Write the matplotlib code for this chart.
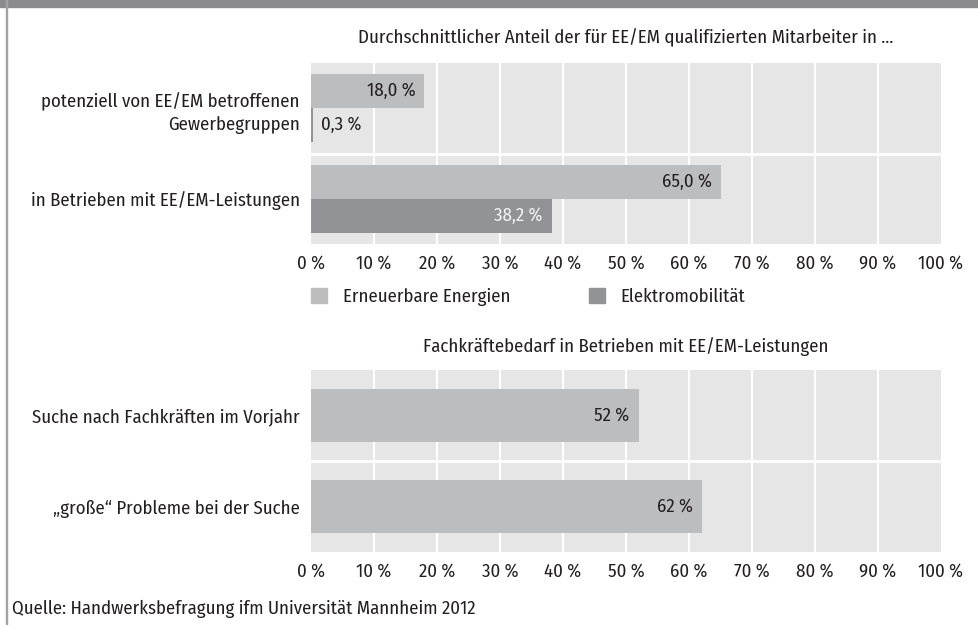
import matplotlib
matplotlib.use("Agg")
import numpy as np
from matplotlib import pyplot as plt
from matplotlib.patches import Patch

plt.rcParams["font.family"] = ["Fira Sans Condensed", "Roboto Condensed", "DejaVu Sans"]
plt.rcParams["font.size"] = 13.5

# colours
bandGray = "#8b8b8e"
lightBar = "#bcbdbf"
darkBar = "#929396"
panelBg = "#e6e6e7"
textCol = "#231f20"

# data
top_categories = ["potenziell von EE/EM betroffenen\nGewerbegruppen", "in Betrieben mit EE/EM-Leistungen"]
ee_values = [18.0, 65.0]
em_values = [0.3, 38.2]
series_names = ["Erneuerbare Energien", "Elektromobilität"]

bottom_categories = ["Suche nach Fachkräften im Vorjahr", "\u201egroße\u201c Probleme bei der Suche"]
bottom_values = [52, 62]

xticks = list(range(0, 101, 10))
xtick_labels = [f"{t} %" for t in xticks]


def de(v):
    return f"{v:.1f}".replace(".", ",") + " %"


fig = plt.figure(figsize=(9.79, 6.25), dpi=100)

# grey band on top and thin line on the left
fig.patches.append(plt.Rectangle((0, 1 - 7 / 625), 1, 7 / 625, transform=fig.transFigure, color=bandGray))
fig.patches.append(plt.Rectangle((6 / 979, 0), 1.5 / 979, 1, transform=fig.transFigure, color="#a3a3a5"))


def style_axes(ax):
    ax.set_facecolor(panelBg)
    ax.set_xlim(0, 100)
    ax.set_ylim(1.5, -0.5)
    ax.set_xticks(xticks)
    ax.set_xticklabels(xtick_labels, color=textCol)
    ax.tick_params(length=0, pad=8, colors=textCol)
    ax.tick_params(axis="y", pad=8)
    for s in ax.spines.values():
        s.set_visible(False)
    for t in xticks[1:-1]:
        ax.axvline(t, color="white", linewidth=1.5, zorder=1)
    ax.axhline(0.5, color="white", linewidth=2, zorder=1)


# top chart
ax1 = fig.add_axes([311 / 979, 1 - 244 / 625, 630 / 979, 181 / 625])
style_axes(ax1)
y = np.arange(len(top_categories))
h = 0.376
ax1.barh(y - h / 2, ee_values, height=h, color=lightBar, zorder=2)
ax1.barh(y + h / 2, em_values, height=h, color=darkBar, zorder=2)
ax1.set_yticks(y)
ax1.set_yticklabels(top_categories, color=textCol, linespacing=1.4)

for i, v in enumerate(ee_values):
    ax1.annotate(de(v), (v, i - h / 2), xytext=(-9, 0), textcoords="offset pixels",
                 ha="right", va="center", color=textCol, zorder=3)
for i, v in enumerate(em_values):
    if v < 5:
        ax1.annotate(de(v), (v, i + h / 2), xytext=(8, 0), textcoords="offset pixels",
                     ha="left", va="center", color=textCol, zorder=3)
    else:
        ax1.annotate(de(v), (v, i + h / 2), xytext=(-9, 0), textcoords="offset pixels",
                     ha="right", va="center", color="#f4f4f4", zorder=3)

ax1.text(0.5, 1 + 25 / 181, "Durchschnittlicher Anteil der für EE/EM qualifizierten Mitarbeiter in ...",
         transform=ax1.transAxes, ha="center", va="center", color=textCol)

handles = [Patch(color=lightBar), Patch(color=darkBar)]
ax1.legend(handles, series_names, loc="center left", bbox_to_anchor=(0, -53 / 181), ncol=2,
           frameon=False, handlelength=0.85, handleheight=0.85, handletextpad=0.87,
           borderpad=0, borderaxespad=0, columnspacing=4.15, labelcolor=textCol)

# bottom chart
ax2 = fig.add_axes([311 / 979, 1 - 552 / 625, 630 / 979, 182 / 625])
style_axes(ax2)
y2 = np.arange(len(bottom_categories))
ax2.barh(y2, bottom_values, height=0.58, color=lightBar, zorder=2)
ax2.set_yticks(y2)
ax2.set_yticklabels(bottom_categories, color=textCol)
for i, v in enumerate(bottom_values):
    ax2.annotate(f"{v} %", (v, i), xytext=(-9, 0), textcoords="offset pixels",
                 ha="right", va="center", color=textCol, zorder=3)

ax2.text(0.5, 1 + 23 / 182, "Fachkräftebedarf in Betrieben mit EE/EM-Leistungen",
         transform=ax2.transAxes, ha="center", va="center", color=textCol)

fig.text(12 / 979, 1 - 609 / 625, "Quelle: Handwerksbefragung ifm Universität Mannheim 2012",
         ha="left", va="center", color=textCol)

fig.savefig("out.png", dpi=100)
